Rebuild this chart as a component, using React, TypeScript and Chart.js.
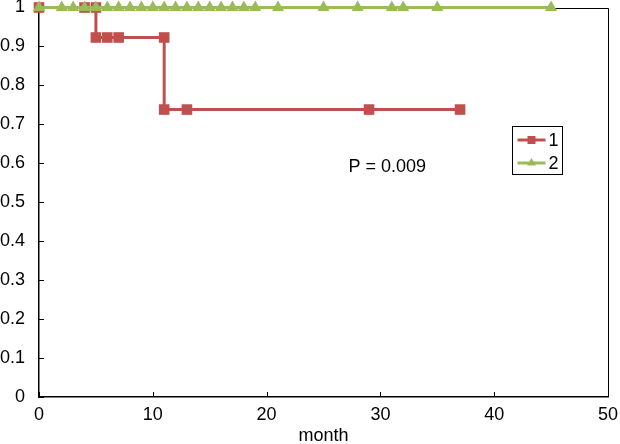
import React, { useEffect, useRef } from 'react';
import { Chart, registerables } from 'chart.js';

Chart.register(...registerables);

// ---- data ----
const seriesLabels = ['1', '2'];
const redMonths = [0, 4, 5, 5, 6, 7, 11, 11, 13, 29, 37];
const redSurvival = [1, 1, 1, 0.923, 0.923, 0.923, 0.923, 0.738, 0.738, 0.738, 0.738];
const greenMonths = [0, 2, 3, 4, 5, 6, 7, 8, 9, 10, 11, 12, 13, 14, 15, 16, 17, 18, 19, 21, 25, 28, 31, 32, 35, 45];
const greenSurvival = [1, 1, 1, 1, 1, 1, 1, 1, 1, 1, 1, 1, 1, 1, 1, 1, 1, 1, 1, 1, 1, 1, 1, 1, 1, 1];
const xTickValues = [0, 10, 20, 30, 40, 50];
const yTickValues = [0, 0.1, 0.2, 0.3, 0.4, 0.5, 0.6, 0.7, 0.8, 0.9, 1];
const xAxisTitle = 'month';
const pValueText = 'P = 0.009';
const pValuePos = { x: 30.6, y: 0.59 };

const RED = '#c0504d';
const GREEN = '#9bbb59';
const FONT = '"Liberation Sans", Arial, Helvetica, sans-serif';

export default function App() {
  const ref = useRef<HTMLCanvasElement>(null);

  useEffect(() => {
    document.body.style.margin = '0';
    const canvas = ref.current;
    if (!canvas) return;

    const decor = {
      id: 'kmDecor',
      beforeDatasetsDraw(chart: any) {
        const { ctx, chartArea } = chart;
        const xs = chart.scales.x;
        const ys = chart.scales.y;
        ctx.save();
        ctx.strokeStyle = '#000';
        ctx.lineWidth = 1;
        ctx.beginPath();
        ctx.moveTo(chartArea.left, Math.round(chartArea.top) + 0.5);
        ctx.lineTo(Math.round(chartArea.right) + 0.5, Math.round(chartArea.top) + 0.5);
        ctx.lineTo(Math.round(chartArea.right) + 0.5, chartArea.bottom);
        ctx.stroke();
        ctx.beginPath();
        xTickValues.forEach((v) => {
          const px = Math.round(xs.getPixelForValue(v)) + 0.5;
          ctx.moveTo(px, chartArea.bottom);
          ctx.lineTo(px, chartArea.bottom - 5);
        });
        yTickValues.forEach((v) => {
          const py = Math.round(ys.getPixelForValue(v)) + 0.5;
          ctx.moveTo(chartArea.left, py);
          ctx.lineTo(chartArea.left + 5, py);
        });
        ctx.stroke();
        ctx.restore();
      },
      afterDraw(chart: any) {
        const { ctx, chartArea } = chart;
        const xs = chart.scales.x;
        const ys = chart.scales.y;
        ctx.save();
        ctx.fillStyle = '#000';
        ctx.font = `18px ${FONT}`;
        ctx.textAlign = 'center';
        ctx.textBaseline = 'middle';
        ctx.fillText(pValueText, xs.getPixelForValue(pValuePos.x), ys.getPixelForValue(pValuePos.y));

        const bx = Math.round(chartArea.right - 96) + 0.5;
        const by = Math.round(chartArea.top + 118) + 0.5;
        const bw = 50;
        const bh = 48;
        ctx.strokeStyle = '#000';
        ctx.lineWidth = 1;
        ctx.strokeRect(bx, by, bw, bh);
        const colors = [RED, GREEN];
        seriesLabels.forEach((lbl, i) => {
          const cy = by + 13.5 + i * 23;
          const x0 = bx + 5;
          const x1 = bx + 33;
          const mx = (x0 + x1) / 2;
          ctx.strokeStyle = colors[i];
          ctx.fillStyle = colors[i];
          ctx.lineWidth = 3;
          ctx.beginPath();
          ctx.moveTo(x0, cy);
          ctx.lineTo(x1, cy);
          ctx.stroke();
          if (i === 0) {
            ctx.fillRect(mx - 4, cy - 4, 8, 8);
          } else {
            ctx.beginPath();
            ctx.moveTo(mx, cy - 5);
            ctx.lineTo(mx + 4.5, cy + 2.5);
            ctx.lineTo(mx - 4.5, cy + 2.5);
            ctx.closePath();
            ctx.fill();
          }
          ctx.fillStyle = '#000';
          ctx.font = `18px ${FONT}`;
          ctx.textAlign = 'left';
          ctx.textBaseline = 'middle';
          ctx.fillText(lbl, x1 + 3, cy + 1);
        });
        ctx.restore();
      },
    };

    const chart = new Chart(canvas, {
      type: 'line',
      data: {
        datasets: [
          {
            label: seriesLabels[0],
            data: redMonths.map((m, i) => ({ x: m, y: redSurvival[i] })),
            borderColor: RED,
            backgroundColor: RED,
            borderWidth: 3,
            pointStyle: 'rect',
            pointRadius: 7.5,
            pointBorderWidth: 0,
            pointBackgroundColor: RED,
            fill: false,
            tension: 0,
            clip: false,
            order: 1,
          },
          {
            label: seriesLabels[1],
            data: greenMonths.map((m, i) => ({ x: m, y: greenSurvival[i] })),
            borderColor: GREEN,
            backgroundColor: GREEN,
            borderWidth: 3,
            pointStyle: 'triangle',
            pointRadius: 7,
            pointBorderWidth: 0,
            pointBackgroundColor: GREEN,
            fill: false,
            tension: 0,
            clip: false,
            order: 0,
          },
        ],
      },
      plugins: [decor],
      options: {
        responsive: false,
        animation: false,
        devicePixelRatio: 1,
        layout: { padding: { top: 7, right: 12, left: 0, bottom: 0 } },
        plugins: {
          legend: { display: false },
          tooltip: { enabled: false },
        },
        scales: {
          x: {
            type: 'linear',
            min: 0,
            max: 50,
            grid: { display: false, drawTicks: false },
            border: { display: true, color: '#000', width: 1.5 },
            afterBuildTicks: (scale: any) => {
              scale.ticks = xTickValues.map((v) => ({ value: v }));
            },
            afterFit: (scale: any) => {
              scale.height = 47;
              scale.paddingLeft = 0;
              scale.paddingRight = 0;
            },
            ticks: {
              color: '#000',
              font: { family: FONT, size: 18 },
              padding: 7,
              maxRotation: 0,
              autoSkip: false,
              callback: (v: any) => String(v),
            },
            title: {
              display: true,
              text: xAxisTitle,
              color: '#000',
              font: { family: FONT, size: 18 },
              padding: { top: 0, bottom: -3 },
            },
          },
          y: {
            type: 'linear',
            min: 0,
            max: 1,
            grid: { display: false, drawTicks: false },
            border: { display: true, color: '#000', width: 1.5 },
            afterBuildTicks: (scale: any) => {
              scale.ticks = yTickValues.map((v) => ({ value: v }));
            },
            afterFit: (scale: any) => {
              scale.width = 39;
              scale.paddingTop = 0;
              scale.paddingBottom = 0;
            },
            ticks: {
              color: '#000',
              font: { family: FONT, size: 18 },
              padding: 14,
              autoSkip: false,
              callback: (v: any) => {
                const n = Number(v);
                return n === 0 || n === 1 ? String(n) : n.toFixed(1);
              },
            },
          },
        },
      },
    } as any);

    return () => {
      chart.destroy();
    };
  }, []);

  return (
    <div style={{ width: 620, height: 444, position: 'relative' }}>
      <canvas ref={ref} width={620} height={444} style={{ display: 'block' }} />
    </div>
  );
}
